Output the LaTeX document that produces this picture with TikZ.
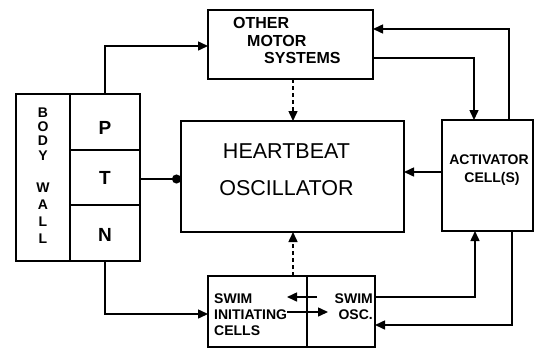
\documentclass[tikz,border=0pt]{standalone}
\usepackage{fontspec}
\setmainfont{Liberation Sans}
\usetikzlibrary{arrows.meta}
\begin{document}
\begin{tikzpicture}[x=1pt,y=-1pt,
  box/.style={draw, line width=1.5pt, anchor=north west, inner sep=0pt, outer sep=0pt},
  wire/.style={line width=1.5pt},
  arr/.style={wire, -{Triangle[length=10pt,width=9pt]}},
  dsh/.style={arr, dash pattern=on 4pt off 3pt},
  dotarr/.style={wire, -{Circle[length=9pt]}},
  lbl/.style={font=\bfseries\fontsize{14}{16}\selectfont, inner sep=0pt},
  olbl/.style={font=\bfseries\fontsize{16}{18}\selectfont, inner sep=0pt, anchor=west},
  big/.style={font=\fontsize{21.5}{37}\selectfont, inner sep=0pt, align=center},
  ptn/.style={font=\bfseries\fontsize{19}{20}\selectfont, inner sep=0pt}]
\useasboundingbox (0,0) rectangle (535,351);
% boxes
\node[box, minimum width=165pt, minimum height=69pt] (oms) at (208,10) {};
\node[box, minimum width=54pt, minimum height=167pt] (bw) at (16,94) {};
\node[box, minimum width=70pt, minimum height=56pt] (P) at (70,94) {};
\node[box, minimum width=70pt, minimum height=55pt] (T) at (70,150) {};
\node[box, minimum width=70pt, minimum height=56pt] (N) at (70,205) {};
\node[box, minimum width=223pt, minimum height=111pt] (hb) at (181,121) {};
\node[box, minimum width=91pt, minimum height=111pt] (act) at (442,120) {};
\node[box, minimum width=167pt, minimum height=71pt] (swim) at (208,276) {};
\coordinate (dv) at (307,276);
\draw[wire] (dv) -- (dv |- swim.south);
% texts
\node[olbl] (o1) at (233,23) {OTHER};
\node[olbl] (o2) at (247,40.5) {MOTOR};
\node[olbl] (o3) at (264,58) {SYSTEMS};
\node[big] (hbt) at (286.5,169.5) {HEARTBEAT\\OSCILLATOR};
\node[lbl, align=center, font=\bfseries\fontsize{14}{18}\selectfont] (actt) at (489,170) {ACTIVATOR\\\hspace*{6pt}CELL(S)};
\node[lbl, align=left, anchor=west] (sict) at (214,315) {SWIM\\INITIATING\\CELLS};
\node[lbl, align=right, anchor=east] (soct) at (373,307) {SWIM\\OSC.};
\node[lbl, align=center, font=\bfseries\fontsize{14}{14.3}\selectfont] (body) at (43,134) {B\\O\\D\\Y};
\node[lbl, align=center, font=\bfseries\fontsize{14}{17}\selectfont] (wall) at (43,213) {W\\A\\L\\L};
\node[ptn] (Pl) at (105,128) {P};
\node[ptn] (Tl) at (105,178) {T};
\node[ptn] (Nl) at (105,235) {N};
% connectors
\draw[arr] (P.north) |- ([yshift=-1.5]oms.west);
\draw[arr] ([yshift=-13.5]oms.east) -| ([xshift=-13.5]act.north);
\draw[arr] ([xshift=21.5]act.north) |- ([yshift=15.5]oms.east);
\draw[dsh] ([xshift=2.5]oms.south) -- ([xshift=2.5]oms.south |- hb.north);
\draw[arr] ([yshift=3.5]act.west) -- ([yshift=3.5]act.west -| hb.east);
\draw[dotarr] ([yshift=-1.5]T.east) -- ([yshift=-1.5]T.east -| hb.west);
\draw[arr] (N.south) |- ([yshift=-2.5]swim.west);
\draw[dsh] ([xshift=1.5]swim.north) -- ([xshift=1.5]swim.north |- hb.south);
\draw[arr] ([yshift=14.5]swim.east) -| ([xshift=-12.5]act.south);
\draw[arr] ([xshift=24.5]act.south) |- ([yshift=-13.5]swim.east);
% internal arrows in swim box
\coordinate (la) at (317,297);
\coordinate (lb) at (287,297);
\draw[arr] (la) -- (lb);
\draw[arr] (sict.east |- 0,312) -- (328,312);
\end{tikzpicture}
\end{document}
